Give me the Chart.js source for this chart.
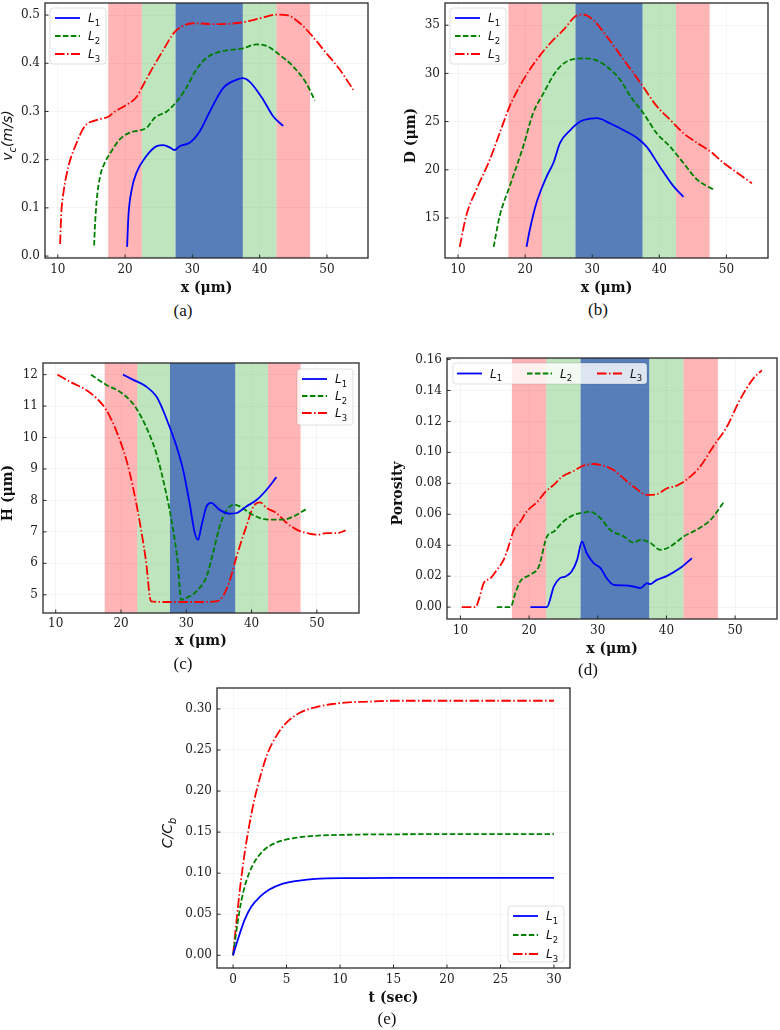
<!DOCTYPE html>
<html>
<head>
<meta charset="utf-8">
<script src="https://cdn.jsdelivr.net/npm/chart.js@4.4.1/dist/chart.umd.min.js"></script>
<style>
	body { margin: 0; background: #fff; width: 780px; height: 1030px; position: relative; overflow: hidden; }
	canvas { position: absolute; }
	.lab { position: absolute; font: 17px "Liberation Serif", serif; color: #111; transform: translate(-50%, -50%); }
</style>
</head>
<body>
<canvas id="pa"></canvas>
<canvas id="pb"></canvas>
<canvas id="pc"></canvas>
<canvas id="pd"></canvas>
<canvas id="pe"></canvas>
<div class="lab" style="left:183px;top:311px">(a)</div>
<div class="lab" style="left:598px;top:310px">(b)</div>
<div class="lab" style="left:183px;top:664px">(c)</div>
<div class="lab" style="left:588px;top:670px">(d)</div>
<div class="lab" style="left:387px;top:1019px">(e)</div>
<script>
// ---- data ----
var legendNames = ["L1", "L2", "L3"];

// shaded zones along x (µm)
var bandEdges = [17.5, 22.5, 27.5, 37.5, 42.5, 47.5];

var xTicksMicron = [10, 20, 30, 40, 50];

// (a) v_c
var a1x = [20.3, 20.5, 21.0, 21.7, 23.2, 24.7, 25.7, 26.7, 27.4, 28.1, 29.6, 31.1, 32.6, 34.6, 36.6, 37.5, 38.5, 40.5, 42.0, 43.5];
var a1y = [0.019, 0.084, 0.139, 0.173, 0.208, 0.228, 0.230, 0.225, 0.220, 0.228, 0.235, 0.259, 0.300, 0.349, 0.366, 0.369, 0.362, 0.325, 0.290, 0.270];
var a2x = [15.4, 15.5, 15.8, 16.3, 17.0, 18.0, 19.2, 20.7, 22.2, 23.2, 24.4, 26.2, 27.7, 29.1, 30.6, 32.1, 34.1, 37.5, 39.5, 41.0, 43.0, 45.0, 46.9, 48.2];
var a2y = [0.022, 0.056, 0.118, 0.166, 0.194, 0.218, 0.242, 0.256, 0.261, 0.266, 0.287, 0.300, 0.321, 0.349, 0.387, 0.411, 0.424, 0.431, 0.439, 0.436, 0.417, 0.393, 0.359, 0.323];
var a3x = [10.35, 10.5, 10.85, 11.6, 12.6, 14.05, 15.5, 16.5, 17.5, 18.5, 20.0, 21.7, 22.7, 24.2, 25.7, 27.2, 28.4, 30.1, 33.6, 37.5, 40.0, 42.5, 44.0, 46.0, 47.9, 49.9, 51.9, 53.9];
var a3y = [0.025, 0.084, 0.132, 0.187, 0.228, 0.270, 0.281, 0.285, 0.289, 0.300, 0.312, 0.330, 0.355, 0.393, 0.428, 0.462, 0.476, 0.483, 0.481, 0.485, 0.493, 0.501, 0.500, 0.483, 0.455, 0.421, 0.387, 0.345];
var aYTicks = [0, 0.1, 0.2, 0.3, 0.4, 0.5];

// (b) D
var b1x = [20.2, 20.7, 21.7, 23.2, 24.2, 25.2, 26.7, 28.2, 29.7, 30.7, 32.7, 34.7, 36.7, 38.1, 40.1, 42.1, 43.6];
var b1y = [12.0, 13.8, 16.6, 19.3, 20.7, 22.8, 24.1, 25.0, 25.3, 25.35, 24.8, 24.1, 23.3, 22.4, 20.3, 18.3, 17.2];
var b2x = [15.3, 16.2, 17.7, 19.7, 21.2, 22.7, 24.7, 26.7, 28.7, 30.2, 32.2, 34.2, 35.7, 37.6, 39.6, 41.6, 43.6, 45.6, 47.1, 48.3];
var b2y = [12.0, 15.2, 18.3, 22.4, 25.9, 27.9, 30.3, 31.4, 31.55, 31.45, 30.7, 29.3, 27.6, 25.9, 23.8, 22.4, 20.7, 19.0, 18.3, 17.9];
var b3x = [10.25, 11.2, 12.7, 14.7, 16.2, 17.7, 19.7, 21.7, 23.7, 25.7, 27.7, 28.7, 30.2, 32.2, 34.7, 37.6, 39.6, 41.6, 43.6, 45.6, 47.6, 49.6, 51.6, 53.8];
var b3y = [12.0, 15.2, 17.9, 21.0, 23.8, 26.6, 29.3, 31.4, 33.1, 34.5, 36.0, 36.1, 35.5, 33.8, 31.4, 28.6, 26.6, 25.2, 23.8, 22.8, 21.9, 20.7, 19.7, 18.6];
var bYTicks = [15, 20, 25, 30, 35];

// (c) H
var c1x = [20.3, 21.8, 23.8, 25.4, 26.4, 27.4, 28.5, 29.5, 30.5, 31.3, 31.8, 32.3, 33.1, 33.8, 35.1, 36.7, 37.7, 39.2, 40.8, 42.3, 43.8];
var c1y = [12.0, 11.84, 11.63, 11.31, 10.89, 10.36, 9.72, 8.98, 7.92, 6.96, 6.75, 7.17, 7.81, 7.92, 7.7, 7.58, 7.6, 7.81, 8.02, 8.34, 8.74];
var c2x = [15.4, 17.7, 19.7, 21.3, 22.3, 23.8, 25.4, 26.9, 27.9, 28.7, 29.2, 30.0, 31.5, 33.1, 34.1, 35.1, 36.2, 37.2, 38.2, 39.7, 41.3, 42.8, 44.9, 46.4, 48.4];
var c2y = [12.0, 11.68, 11.47, 11.2, 10.94, 10.36, 9.5, 8.24, 7.17, 6.01, 4.84, 4.9, 5.1, 5.58, 6.33, 7.17, 7.7, 7.86, 7.81, 7.6, 7.44, 7.39, 7.39, 7.49, 7.73];
var c3x = [10.26, 12.6, 14.6, 16.2, 17.7, 19.2, 20.8, 21.8, 22.8, 23.8, 24.6, 26.9, 29.5, 32.0, 34.6, 35.6, 36.7, 37.7, 39.2, 40.3, 41.3, 42.3, 43.8, 45.4, 46.9, 48.5, 50.0, 51.5, 53.1, 54.4];
var c3y = [12.0, 11.73, 11.52, 11.26, 10.89, 10.25, 9.3, 8.45, 7.39, 6.11, 4.79, 4.77, 4.77, 4.77, 4.79, 4.95, 5.48, 6.22, 7.18, 7.81, 7.94, 7.76, 7.6, 7.28, 7.07, 6.96, 6.91, 6.96, 6.96, 7.05];
var cYTicks = [5, 6, 7, 8, 9, 10, 11, 12];

// (d) porosity
var d1x = [20.2, 22.6, 23.6, 24.5, 25.3, 26.2, 27.0, 27.7, 28.4, 29.4, 30.4, 31.3, 32.3, 33.8, 35.2, 36.2, 37.2, 37.6, 38.6, 40.1, 42.0, 43.7];
var d1y = [0, 0, 0.0133, 0.0187, 0.0198, 0.023, 0.0305, 0.0424, 0.0348, 0.0284, 0.0252, 0.0187, 0.0144, 0.014, 0.0133, 0.0123, 0.0155, 0.0148, 0.0176, 0.0202, 0.0252, 0.0316];
var d2x = [15.3, 17.3, 18.0, 18.7, 20.2, 21.4, 22.6, 23.6, 25.0, 26.5, 27.9, 28.9, 30.4, 31.8, 33.8, 35.2, 36.2, 37.6, 39.1, 40.5, 42.5, 44.4, 46.4, 48.3];
var d2y = [0, 0, 0.009, 0.0166, 0.021, 0.026, 0.0456, 0.0488, 0.0553, 0.0596, 0.061, 0.0617, 0.0574, 0.05, 0.0456, 0.0417, 0.0434, 0.0417, 0.037, 0.039, 0.0456, 0.05, 0.0563, 0.0675];
var d3x = [10.2, 12.2, 12.7, 13.4, 14.4, 15.3, 16.3, 17.0, 17.8, 18.7, 19.7, 21.2, 22.4, 23.6, 24.8, 26.5, 27.9, 29.4, 30.8, 32.3, 33.8, 35.2, 37.2, 38.6, 40.1, 41.5, 43.0, 44.9, 46.8, 48.8, 50.7, 52.7, 53.9];
var d3y = [0, 0, 0.005, 0.0155, 0.0187, 0.024, 0.0305, 0.039, 0.05, 0.055, 0.062, 0.068, 0.0746, 0.079, 0.0843, 0.088, 0.0914, 0.0925, 0.0914, 0.0886, 0.083, 0.078, 0.0725, 0.073, 0.0768, 0.0785, 0.0826, 0.0908, 0.1037, 0.1166, 0.134, 0.148, 0.153];
var dYTicks = [0, 0.02, 0.04, 0.06, 0.08, 0.10, 0.12, 0.14, 0.16];

// (e) C/Cb over time
var e1x = [0, 0.31, 0.62, 1.08, 1.7, 2.5, 3.4, 4.6, 6.2, 7.7, 10.8, 15, 20, 25, 30];
var e1y = [0, 0.0135, 0.026, 0.043, 0.059, 0.071, 0.080, 0.087, 0.091, 0.093, 0.094, 0.0943, 0.0943, 0.0943, 0.0943];
var e2x = [0, 0.37, 0.77, 1.23, 1.85, 2.8, 4.0, 5.6, 7.7, 10.8, 15, 20, 25, 30];
var e2y = [0, 0.0345, 0.066, 0.090, 0.110, 0.127, 0.137, 0.1425, 0.1455, 0.1468, 0.1473, 0.1475, 0.1475, 0.1475];
var e3x = [0, 0.31, 0.62, 1.08, 1.54, 2.0, 2.6, 3.2, 4.0, 4.9, 6.2, 7.7, 9.3, 10.8, 13, 15, 20, 25, 30];
var e3y = [0, 0.040, 0.078, 0.124, 0.160, 0.190, 0.220, 0.245, 0.266, 0.282, 0.295, 0.302, 0.306, 0.308, 0.309, 0.310, 0.310, 0.310, 0.310];
var eXTicks = [0, 5, 10, 15, 20, 25, 30];
var eYTicks = [0, 0.05, 0.10, 0.15, 0.20, 0.25, 0.30];

// ---- styles ----
var serif = '"DejaVu Serif", serif';
var sans = '"DejaVu Sans", sans-serif';
var lineColors = ["#0000ff", "#008000", "#ff0000"];
var lineDashes = [[], [5.5, 2.4], [9.6, 2.4, 1.5, 2.4]];
var bandColors = ["rgba(255,0,0,0.29)", "rgba(40,170,40,0.3)", "rgba(40,90,165,0.78)", "rgba(40,170,40,0.3)", "rgba(255,0,0,0.29)"];
var gridColor = "rgba(0,0,0,0.04)";

function drawRich(ctx, parts, cx, cy) {
	var total = 0;
	parts.forEach(function(p) {
		ctx.font = p.font;
		p.w = ctx.measureText(p.t).width;
		total += p.w;
	});
	var x = cx - total / 2;
	ctx.textBaseline = "alphabetic";
	ctx.textAlign = "left";
	parts.forEach(function(p) {
		ctx.font = p.font;
		ctx.fillText(p.t, x, cy + (p.dy || 0));
		x += p.w;
	});
}

function legendLabel(name) {
	return [
		{t: name.charAt(0), font: "italic 12px " + sans, dy: 0},
		{t: name.slice(1), font: "8.5px " + sans, dy: 3.5}
	];
}

function panelPlugin(p) {
	return {
		id: "panel",
		beforeDatasetsDraw: function(chart) {
			if(!p.bands) return;
			var a = chart.chartArea, xs = chart.scales.x, ctx = chart.ctx;
			ctx.save();
			for(var i = 0; i < bandColors.length; i++) {
				var x0 = xs.getPixelForValue(bandEdges[i]);
				var x1 = xs.getPixelForValue(bandEdges[i + 1]);
				ctx.fillStyle = bandColors[i];
				ctx.fillRect(x0, a.top, x1 - x0, a.bottom - a.top);
			}
			ctx.restore();
		},
		afterDraw: function(chart) {
			var a = chart.chartArea, ctx = chart.ctx;
			ctx.save();
			// frame + inward ticks
			ctx.strokeStyle = "#2a2a2a";
			ctx.lineWidth = 1.3;
			ctx.strokeRect(a.left, a.top, a.right - a.left, a.bottom - a.top);
			ctx.lineWidth = 1;
			ctx.beginPath();
			p.xTicks.forEach(function(v) {
				var px = chart.scales.x.getPixelForValue(v);
				ctx.moveTo(px, a.bottom);
				ctx.lineTo(px, a.bottom - 3.5);
			});
			p.yTicks.forEach(function(v) {
				var py = chart.scales.y.getPixelForValue(v);
				ctx.moveTo(a.left, py);
				ctx.lineTo(a.left + 3.5, py);
			});
			ctx.stroke();

			// y title
			ctx.fillStyle = "#111";
			ctx.save();
			ctx.translate(p.yTitleX, (a.top + a.bottom) / 2 + 5);
			ctx.rotate(-Math.PI / 2);
			drawRich(ctx, p.yTitle, 0, 0);
			ctx.restore();

			// legend
			var lg = p.legend, bw, bh, bx, by;
			if(lg.horiz) {
				bw = 194; bh = 21;
			} else {
				bw = 56; bh = 56;
			}
			bx = lg.corner.charAt(1) === "l" ? a.left + lg.dx : a.right - lg.dx - bw;
			by = lg.corner.charAt(0) === "t" ? a.top + lg.dy : a.bottom - lg.dy - bh;
			ctx.fillStyle = "rgba(255,255,255,0.8)";
			ctx.strokeStyle = "rgba(0,0,0,0.12)";
			ctx.lineWidth = 1;
			ctx.beginPath();
			ctx.roundRect(bx, by, bw, bh, 3);
			ctx.fill();
			ctx.stroke();
			chart.data.datasets.forEach(function(ds, i) {
				var lx, ly;
				if(lg.horiz) {
					lx = bx + 4 + i * 70;
					ly = by + bh / 2;
				} else {
					lx = bx + 5;
					ly = by + 10 + i * lg.row;
				}
				ctx.strokeStyle = ds.borderColor;
				ctx.lineWidth = 1.8;
				ctx.setLineDash(ds.borderDash);
				ctx.beginPath();
				ctx.moveTo(lx, ly);
				ctx.lineTo(lx + 25, ly);
				ctx.stroke();
				ctx.setLineDash([]);
				ctx.fillStyle = "#111";
				var parts = legendLabel(ds.label);
				ctx.font = parts[0].font;
				var w0 = ctx.measureText(parts[0].t).width;
				ctx.font = parts[1].font;
				var w1 = ctx.measureText(parts[1].t).width;
				drawRich(ctx, parts, lx + 33 + (w0 + w1) / 2, ly + 4);
			});
			ctx.restore();
		}
	};
}

var microns = "x (\u03bcm)";

var panels = [
	{id: "pa", left: 0, top: -11, w: 390, h: 311, padTop: 14, padRight: 22, yw: 45, xh: 42, xPad: 5, titlePad: 3,
		xMin: 8.1, xMax: 56.1, xTicks: xTicksMicron, yMin: -0.004, yMax: 0.525, yTicks: aYTicks, yDec: 1, bands: true,
		series: [[a1x, a1y], [a2x, a2y], [a3x, a3y]], xTitle: microns, yTitleX: 12,
		yTitle: [{t: "v", font: "italic 14px " + sans}, {t: "c", font: "italic 10px " + sans, dy: 4}, {t: "(m/s)", font: "italic 14px " + sans}],
		legend: {corner: "tl", dx: 5, dy: 5, row: 18}},
	{id: "pb", left: 390, top: -11, w: 390, h: 311, padTop: 14, padRight: 12, yw: 55, xh: 42, xPad: 5, titlePad: 3,
		xMin: 8.05, xMax: 56.2, xTicks: xTicksMicron, yMin: 10.85, yMax: 37.3, yTicks: bYTicks, yDec: 0, bands: true,
		series: [[b1x, b1y], [b2x, b2y], [b3x, b3y]], xTitle: microns, yTitleX: 25,
		yTitle: [{t: "D (\u03bcm)", font: "bold 14px " + serif}],
		legend: {corner: "tl", dx: 5, dy: 5, row: 18}},
	{id: "pc", left: 0, top: 340, w: 390, h: 313, padTop: 23, padRight: 31, yw: 43, xh: 40, xPad: 4, titlePad: 3,
		xMin: 8.05, xMax: 56.45, xTicks: xTicksMicron, yMin: 4.42, yMax: 12.37, yTicks: cYTicks, yDec: 0, bands: true,
		series: [[c1x, c1y], [c2x, c2y], [c3x, c3y]], xTitle: microns, yTitleX: 12,
		yTitle: [{t: "H (\u03bcm)", font: "bold 14px " + serif}],
		legend: {corner: "tr", dx: 6, dy: 6, row: 17}},
	{id: "pd", left: 390, top: 340, w: 390, h: 321, padTop: 18, padRight: 3, yw: 57, xh: 42, xPad: 5, titlePad: 3,
		xMin: 8.05, xMax: 56.1, xTicks: xTicksMicron, yMin: -0.0077, yMax: 0.161, yTicks: dYTicks, yDec: 2, bands: true,
		series: [[d1x, d1y], [d2x, d2y], [d3x, d3y]], xTitle: microns, yTitleX: 12,
		yTitle: [{t: "Porosity", font: "bold 14px " + serif}],
		legend: {corner: "tl", dx: 6, dy: 5, horiz: true}},
	{id: "pe", left: 150, top: 670, w: 450, h: 340, padTop: 18, padRight: 30, yw: 67, xh: 42, xPad: 5, titlePad: 3,
		xMin: -1.5, xMax: 31.5, xTicks: eXTicks, yMin: -0.0155, yMax: 0.3255, yTicks: eYTicks, yDec: 2, bands: false,
		series: [[e1x, e1y], [e2x, e2y], [e3x, e3y]], xTitle: "t (sec)", yTitleX: 22,
		yTitle: [{t: "C/C", font: "italic 14px " + sans}, {t: "b", font: "italic 10px " + sans, dy: 4}],
		legend: {corner: "br", dx: 6, dy: 6, row: 19}}
];

function makePanel(p) {
	var cv = document.getElementById(p.id);
	cv.width = p.w;
	cv.height = p.h;
	cv.style.left = p.left + "px";
	cv.style.top = p.top + "px";

	var datasets = p.series.map(function(s, i) {
		return {
			label: legendNames[i],
			data: s[0].map(function(x, k) { return {x: x, y: s[1][k]}; }),
			borderColor: lineColors[i],
			borderDash: lineDashes[i],
			borderWidth: 1.8,
			pointRadius: 0,
			fill: false,
			cubicInterpolationMode: "monotone"
		};
	});

	new Chart(cv, {
		type: "line",
		data: {datasets: datasets},
		options: {
			responsive: false,
			animation: false,
			devicePixelRatio: 1,
			layout: {padding: {top: p.padTop, right: p.padRight, left: 0, bottom: 0}},
			plugins: {legend: {display: false}, tooltip: {enabled: false}},
			scales: {
				x: {
					type: "linear", min: p.xMin, max: p.xMax,
					afterBuildTicks: function(s) { s.ticks = p.xTicks.map(function(v) { return {value: v}; }); },
					afterFit: function(s) { s.height = p.xh; },
					grid: {color: gridColor, drawTicks: false},
					border: {display: false},
					ticks: {padding: p.xPad, font: {family: serif, size: 12}, color: "#222", maxRotation: 0,
						callback: function(v) { return String(v); }},
					title: {display: true, text: p.xTitle, color: "#111",
						font: {family: serif, size: 14, weight: "bold"}, padding: {top: 0, bottom: p.titlePad}}
				},
				y: {
					type: "linear", min: p.yMin, max: p.yMax,
					afterBuildTicks: function(s) { s.ticks = p.yTicks.map(function(v) { return {value: v}; }); },
					afterFit: function(s) { s.width = p.yw; },
					grid: {color: gridColor, drawTicks: false},
					border: {display: false},
					ticks: {padding: 5, font: {family: serif, size: 12}, color: "#222",
						callback: function(v) { return Number(v).toFixed(p.yDec); }}
				}
			}
		},
		plugins: [panelPlugin(p)]
	});
}

panels.forEach(makePanel);
</script>
</body>
</html>
